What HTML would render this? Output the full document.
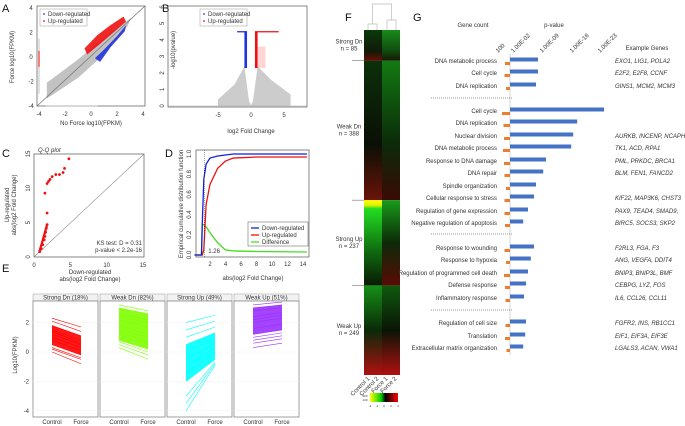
<!DOCTYPE html>
<html><head><meta charset="utf-8">
<style>
body{margin:0;background:#fff;}
svg{display:block;font-family:"Liberation Sans",sans-serif;}
.t{font-size:6px;fill:#333}
.pl{font-size:11px;fill:#111}
</style></head>
<body>
<svg id="fig" width="685" height="426" viewBox="0 0 685 426">
<defs>
<linearGradient id="gCtl1" x1="0" y1="0" x2="0" y2="1"><stop offset="0" stop-color="#0a3a0a"/><stop offset="0.7" stop-color="#101a08"/><stop offset="1" stop-color="#6a0d05"/></linearGradient>
<linearGradient id="gFor1" x1="0" y1="0" x2="0" y2="1"><stop offset="0" stop-color="#1a8a1a"/><stop offset="0.7" stop-color="#0f4a0f"/><stop offset="1" stop-color="#1a1505"/></linearGradient>
<linearGradient id="gCtl2" x1="0" y1="0" x2="0" y2="1"><stop offset="0" stop-color="#0b300b"/><stop offset="0.6" stop-color="#0a0f05"/><stop offset="1" stop-color="#6a1408"/></linearGradient>
<linearGradient id="gFor2" x1="0" y1="0" x2="0" y2="1"><stop offset="0" stop-color="#137a13"/><stop offset="0.6" stop-color="#0b2a08"/><stop offset="1" stop-color="#3a0a05"/></linearGradient>
<linearGradient id="gCtl3" x1="0" y1="0" x2="0" y2="1"><stop offset="0" stop-color="#ffff00"/><stop offset="0.06" stop-color="#e0f000"/><stop offset="0.1" stop-color="#22dd22"/><stop offset="0.6" stop-color="#0f6a0f"/><stop offset="1" stop-color="#0a1a05"/></linearGradient>
<linearGradient id="gFor3" x1="0" y1="0" x2="0" y2="1"><stop offset="0" stop-color="#1a9a1a"/><stop offset="0.5" stop-color="#0c2a08"/><stop offset="1" stop-color="#5a0a05"/></linearGradient>
<linearGradient id="gCtl4" x1="0" y1="0" x2="0" y2="1"><stop offset="0" stop-color="#169016"/><stop offset="0.5" stop-color="#0a2a08"/><stop offset="1" stop-color="#b01010"/></linearGradient>
<linearGradient id="gFor4" x1="0" y1="0" x2="0" y2="1"><stop offset="0" stop-color="#0f5a0f"/><stop offset="0.5" stop-color="#0a1505"/><stop offset="1" stop-color="#b01010"/></linearGradient>
<linearGradient id="gKey" x1="0" y1="0" x2="1" y2="0"><stop offset="0" stop-color="#ffff00"/><stop offset="0.4" stop-color="#00cc00"/><stop offset="0.55" stop-color="#000"/><stop offset="1" stop-color="#ff0000"/></linearGradient>
</defs>

<text class="pl" x="2" y="12">A</text>
<text class="pl" x="162" y="12">B</text>
<text class="pl" x="2" y="157">C</text>
<text class="pl" x="165" y="157">D</text>
<text class="pl" x="2" y="272">E</text>
<text class="pl" x="345" y="21">F</text>
<text class="pl" x="413" y="21">G</text>

<g id="pA"></g>
<g id="pB"></g>
<g id="pC"></g>
<g id="pD"></g>
<g id="pE"></g>
<g id="pF"></g>
<g id="pG"></g>
</svg>
<script>
// ---------- DATA ----------
const aRedBand=[[-0.5,0.7],[0.5,1.8],[1.5,2.6],[2.5,3.3],[2.7,2.9],[1.5,1.8],[0.5,0.9],[-0.3,0.2]];
const aBlueBand=[[0.3,-0.1],[1,0.6],[2,1.7],[2.7,2.6],[2.6,2.1],[1.5,0.8],[0.7,-0.4]];
const aGrayBand=[[-3.4,-3.4],[-1,-1.7],[1,0.2],[2.8,2.5],[3.1,3.2],[1,1.6],[-1,-0.2],[-3.4,-2.1]];
const bBlueTop=[-2.1,-0.6];const bRedTop=[0.6,4.2];
const cX=[0.8,1.0,1.2,1.4,1.5,1.6,1.7,1.8,1.8,1.5,1.8,2.0,2.2,2.5,3.0,3.5,4.0,4.2,4.8];
const cY=[0.8,1.2,1.8,2.5,3.0,3.6,4.2,4.7,6.4,9.3,10.7,11.0,11.3,11.7,12.0,12.0,12.3,12.9,14.3];
const dX=[0,0.9,1.0,1.2,1.5,2,3,4,5,8,14.5];
const dBlue=[0,0,0.3,0.75,0.9,0.96,0.98,0.99,1.0,1.0,1.0];
const dRed=[0,0,0,0.05,0.5,0.7,0.86,0.93,0.96,0.97,0.97];
const dGreen=[0,0,0.3,0.3,0.28,0.22,0.12,0.05,0.04,0.035,0.03];
const eGroups=['Strong Dn (18%)','Weak Dn (82%)','Strong Up (49%)','Weak Up (51%)'];
const eColors=['#ff0000','#7fff00','#00ffff','#9b30ff'];
const eCtl=[[0,0.2,0.5,0.8,1.0,1.2,1.5,1.8,2.1,2.3,0.3,1.4],[0.3,0.5,0.8,1.3,1.8,2.2,2.6,3.0,3.2,0.7,1.5,2.4],[-4,-3.5,-2,-1.5,-1,-0.5,0,0.5,1,1.5,2,-3],[0.3,0.8,1.2,1.6,2,2.4,2.8,3.0,3.2,1.0,2.2,0.6]];
const eFor=[[-0.8,-0.5,-0.2,0.1,0.3,0.5,0.8,1.1,1.4,1.7,-0.4,0.6],[-0.5,-0.2,0.2,0.7,1.2,1.7,2.2,2.6,2.8,0.0,1.0,2.0],[-0.9,-0.8,-0.5,0,0.3,0.6,0.9,1.3,1.7,2.1,2.5,-0.7],[0.6,1.1,1.5,1.9,2.3,2.7,3.0,3.2,3.4,1.3,2.5,0.9]];
const gCats=['DNA metabolic process','Cell cycle','DNA replication','Cell cycle','DNA replication','Nuclear division','DNA metabolic process','Response to DNA damage','DNA repair','Spindle organization','Cellular response to stress','Regulation of gene expression','Negative regulation of apoptosis','Response to wounding','Response to hypoxia','Regulation of programmed cell death','Defense response','Inflammatory response','Regulation of cell size','Translation','Extracellular matrix organization'];
const gLogP=[7,7,6.5,23.5,16.8,15.8,15.3,9,8.3,6.5,6,4.5,3.3,6,5.2,4.5,4,3.5,4,3.8,3.3];
const gCount=[50,55,40,80,65,60,70,60,55,40,55,55,50,55,40,60,50,45,45,50,35];
const gGenes=['EXO1, LIG1, POLA2','E2F2, E2F8, CCNF','GINS1, MCM2, MCM3','','','AURKB, INCENP, NCAPH','TK1, ACD, RPA1','PML, PRKDC, BRCA1','BLM, FEN1, FANCD2','','KIF22, MAP3K6, CHST3','PAX9, TEAD4, SMAD9,','BIRC5, SOCS3, SKP2','F2RL3, FGA, F3','ANG, VEGFA, DDIT4','BNIP3, BNIP3L, BMF','CEBPG, LYZ, FOS','IL6, CCL26, CCL11','FGFR2, INS, RB1CC1','EIF1, EIF3A, EIF3E','LGALS3, ACAN, VWA1'];
const gTicks=['100','1.00E-02','1.00E-09','1.00E-16','1.00E-23'];
const gTickVals=[-3,0.8,8,15.5,22.5];
const fLabels=['Strong Dn','Weak Dn','Strong Up','Weak Up'];
const fN=[85,388,237,249];

const NS='http://www.w3.org/2000/svg';
function mk(p,tag,at,txt){const e=document.createElementNS(NS,tag);for(const k in at)e.setAttribute(k,at[k]);if(txt!==undefined)e.textContent=txt;p.appendChild(e);return e;}
function txt(p,x,y,s,o){o=o||{};return mk(p,'text',Object.assign({x:x,y:y,class:'t','text-anchor':o.a||'middle'},o.tr?{transform:o.tr}:{} ,o.st?{style:o.st}:{}),s);}

// ---------- A ----------
(function(){const g=document.getElementById('pA');
const X=v=>91+v*13, Y=v=>57-v*12.25;
mk(g,'rect',{x:37,y:6,width:108,height:100,fill:'none',stroke:'#555','stroke-width':0.7});
const poly=(arr,c,op)=>mk(g,'polygon',{points:arr.map(d=>X(d[0])+','+Y(d[1])).join(' '),fill:c,opacity:op});
let e=poly(aGrayBand,'#bbb',0.9);
e=poly(aRedBand,'#ee1111',0.9);
e=poly(aBlueBand,'#2233dd',0.9);
mk(g,'line',{x1:X(-3.5),y1:Y(-4),x2:X(0.5),y2:Y(-4),stroke:'#ccc','stroke-width':1.5});
mk(g,'line',{x1:X(-4),y1:Y(-3),x2:X(-4),y2:Y(1.5),stroke:'#ccc','stroke-width':1.2});
mk(g,'line',{x1:X(-4),y1:Y(-0.8),x2:X(-4),y2:Y(0.5),stroke:'#e33','stroke-width':1.2});
mk(g,'line',{x1:37,y1:106,x2:145,y2:6,stroke:'#666','stroke-width':0.6});
[-4,-2,0,2,4].forEach(v=>{txt(g,X(v),116,v);txt(g,31,Y(v)+2,v);});
txt(g,91,125,'No Force log10(FPKM)');
txt(g,0,0,'Force log10(FPKM)',{tr:'translate(14,57) rotate(-90)'});
mk(g,'rect',{x:40,y:9,width:47,height:17,fill:'#fff',stroke:'#999','stroke-width':0.5});
mk(g,'circle',{cx:44,cy:14,r:0.9,fill:'#2233dd'});txt(g,48,16,'Down-regulated',{a:'start'});
mk(g,'circle',{cx:44,cy:21,r:0.9,fill:'#ee1111'});txt(g,48,23,'Up-regulated',{a:'start'});
})();

// ---------- B ----------
(function(){const g=document.getElementById('pB');
const X=v=>251+v*6.6, Y=v=>106-v*16.5;
mk(g,'rect',{x:168,y:6,width:139,height:101,fill:'none',stroke:'#555','stroke-width':0.7});
mk(g,'polygon',{points:[[-5,0],[-5,0.4],[-2.5,1.3],[-1,2.4],[-0.3,0.3],[0,0.05],[0.3,0.3],[1,2.4],[3,1.6],[6,0.7],[6,0]].map(d=>X(d[0])+','+Y(d[1])).join(' '),fill:'#ccc'});
mk(g,'rect',{x:X(-1),y:Y(4.5),width:X(-0.6)-X(-1),height:Y(2.3)-Y(4.5),fill:'#2233dd'});
mk(g,'rect',{x:X(0.6),y:Y(4.5),width:X(1.0)-X(0.6),height:Y(2.3)-Y(4.5),fill:'#ee1111'});
mk(g,'rect',{x:X(1.0),y:Y(3.6),width:X(2.2)-X(1.0),height:Y(2.3)-Y(3.6),fill:'#f88',opacity:0.35});
mk(g,'line',{x1:X(bBlueTop[0]),y1:Y(4.5),x2:X(bBlueTop[1]),y2:Y(4.5),stroke:'#2233dd','stroke-width':1.3});
mk(g,'line',{x1:X(bRedTop[0]),y1:Y(4.5),x2:X(bRedTop[1]),y2:Y(4.5),stroke:'#ee1111','stroke-width':1.3});
mk(g,'line',{x1:168,y1:Y(0),x2:307,y2:Y(0),stroke:'#aaa','stroke-width':0.6});
[-5,0,5].forEach(v=>txt(g,X(v),117,v));
[0,1,2,3,4,5,6].forEach(v=>txt(g,0,0,v,{tr:`translate(164,${Y(v)}) rotate(-90)`}));
txt(g,251,133,'log2 Fold Change');
txt(g,0,0,'-log10(pvalue)',{tr:'translate(175,50) rotate(-90)'});
mk(g,'rect',{x:200,y:9,width:47,height:17,fill:'#fff',stroke:'#999','stroke-width':0.5});
mk(g,'circle',{cx:204,cy:14,r:0.9,fill:'#2233dd'});txt(g,208,16,'Down-regulated',{a:'start'});
mk(g,'circle',{cx:204,cy:21,r:0.9,fill:'#ee1111'});txt(g,208,23,'Up-regulated',{a:'start'});
})();

// ---------- C ----------
(function(){const g=document.getElementById('pC');
const X=v=>34+v*7.27, Y=v=>257-v*6.87;
mk(g,'rect',{x:34,y:154,width:110,height:103,fill:'none',stroke:'#555','stroke-width':0.7});
mk(g,'line',{x1:34,y1:257,x2:144,y2:154,stroke:'#888','stroke-width':0.6});
mk(g,'line',{x1:X(0.7),y1:Y(0.6),x2:X(1.8),y2:Y(4.7),stroke:'#ee1111','stroke-width':2.2});
cX.forEach((v,i)=>{const c=mk(g,'circle',{cx:X(v),cy:Y(cY[i]),r:1.4,fill:'#ee1111'});

});
[0,5,10,15].forEach(v=>{txt(g,X(v),267,v);txt(g,0,0,v,{tr:`translate(30,${Y(v)}) rotate(-90)`});});
txt(g,38,152,'Q-Q plot',{a:'start',st:'font-style:italic'});
txt(g,90,274,'Down-regulated');txt(g,90,281,'abs(log2 Fold Change)');
txt(g,0,0,'Up-regulated',{tr:'translate(9,205) rotate(-90)'});
txt(g,0,0,'abs(log2 Fold Change)',{tr:'translate(16,205) rotate(-90)'});
txt(g,142,245,'KS test: D = 0.31',{a:'end'});
txt(g,142,252,'p-value < 2.2e-16',{a:'end'});
})();

// ---------- D ----------
(function(){const g=document.getElementById('pD');
const X=v=>194.5+v*7.75, Y=v=>255-v*101;
mk(g,'rect',{x:196,y:150,width:113,height:107,fill:'none',stroke:'#555','stroke-width':0.7});
const line=(arr,c,n)=>{const p=mk(g,'polyline',{points:dX.map((x,i)=>X(x)+','+Y(arr[i])).join(' '),fill:'none',stroke:c,'stroke-width':1.3});};
line(dGreen,'#44dd22','difference-line');line(dRed,'#ee1111','up-regulated-line');line(dBlue,'#1122dd','down-regulated-line');
mk(g,'line',{x1:X(1.26),y1:150,x2:X(1.26),y2:257,stroke:'#333','stroke-width':0.5,'stroke-dasharray':'1,1'});
txt(g,X(1.26)+4,253,'1.26',{a:'start'});
[2,4,6,8,10,12,14].forEach(v=>txt(g,X(v),266,v));
[0,0.2,0.4,0.6,0.8,1.0].forEach(v=>txt(g,0,0,v.toFixed(1),{tr:`translate(191,${Y(v)}) rotate(-90)`}));
txt(g,253,280,'abs(log2 Fold Change)');
txt(g,0,0,'Empirical cumulative distribution function',{tr:'translate(183,204) rotate(-90)'});
mk(g,'rect',{x:248,y:222,width:60,height:24,fill:'#fff',stroke:'#555','stroke-width':0.5});
[['#1122dd','Down-regulated'],['#ee1111','Up-regulated'],['#44dd22','Difference']].forEach((d,i)=>{mk(g,'line',{x1:251,x2:259,y1:228+i*7,y2:228+i*7,stroke:d[0],'stroke-width':1.3});txt(g,262,230+i*7,d[1],{a:'start'});});
})();

// ---------- E ----------
(function(){const g=document.getElementById('pE');
const Y=v=>352-v*14.7;
txt(g,0,0,'Log10(FPKM)',{tr:'translate(17,355) rotate(-90)'});
[2,0,-2,-4].forEach(v=>txt(g,29,Y(v)+2,v,{a:'end'}));
const px=[33,100,167,234];
eGroups.forEach((name,k)=>{const x0=px[k];
mk(g,'rect',{x:x0,y:294,width:65,height:7,fill:'#f2f2f2',stroke:'#999','stroke-width':0.5});
txt(g,x0+32.5,299.5,name);
mk(g,'rect',{x:x0,y:301,width:65,height:116,fill:'#fff',stroke:'#888','stroke-width':0.8});
[2,0,-2,-4].forEach(v=>mk(g,'line',{x1:x0,x2:x0+65,y1:Y(v),y2:Y(v),stroke:'#f0f0f0','stroke-width':0.5}));
const cx=x0+19, fx=x0+48;
const c=eCtl[k], f=eFor[k];
mk(g,'polygon',{points:`${cx},${Y(c[2])} ${fx},${Y(f[2])} ${fx},${Y(f[7])} ${cx},${Y(c[7])}`,fill:eColors[k],opacity:0.9});
c.forEach((v,i)=>{const l=mk(g,'line',{x1:cx,y1:Y(v),x2:fx,y2:Y(f[i]),stroke:eColors[k],'stroke-width':0.6});

});
txt(g,cx,424,'Control');txt(g,fx,424,'Force');
});
})();

// ---------- F ----------
(function(){const g=document.getElementById('pF');
const top=30,bot=375,x0=364,w=36;
const tot=fN.reduce((a,b)=>a+b,0);
let y=top;
mk(g,'path',{d:'M368,30 V24 H377 V30 M387,30 V20 H396 V30 M372.5,24 V4 H391.5 V20',fill:'none',stroke:'#bbb','stroke-width':0.7});
fN.forEach((n,k)=>{const h=(bot-top)*n/tot;
mk(g,'rect',{x:x0,y:y,width:w/2,height:h,fill:`url(#gCtl${k+1})`});
mk(g,'rect',{x:x0+w/2,y:y,width:w/2,height:h,fill:`url(#gFor${k+1})`});
if(k>0) mk(g,'line',{x1:352,x2:364,y1:y,y2:y,stroke:'#555','stroke-width':0.5});
txt(g,349,y+h/2-2,fLabels[k]);txt(g,349,y+h/2+5,'n = '+n);
y+=h;});
['Control 1','Control 2','Force 1','Force 2'].forEach((s,i)=>txt(g,0,0,s,{a:'end',tr:`translate(${x0+6+i*9},379) rotate(-45)`}));
mk(g,'rect',{x:370,y:393,width:28,height:9,fill:'url(#gKey)'});
txt(g,365,397,'500',{st:'font-size:3px'});txt(g,365,401,'100',{st:'font-size:3px'});
[-4,-2,0,2,4].forEach((v,i)=>txt(g,370+i*7,407,v,{st:'font-size:3px'}));
})();

// ---------- G ----------
(function(){const g=document.getElementById('pG');
const ax=510, X=v=>ax+v*4;
const rowsY=[61,73,86,111,123,136,148,161,173,186,198,211,223,248,260,273,285,298,323,336,348];
txt(g,473,27,'Gene count');txt(g,554,27,'p-value');
gTicks.forEach((t,i)=>txt(g,0,0,t,{a:'start',tr:`translate(${X(gTickVals[i])},53) rotate(-45)`}));
txt(g,647,50,'Example Genes');
mk(g,'line',{x1:ax,x2:ax,y1:54,y2:355,stroke:'#ccc','stroke-width':0.8});
[98,234,310].forEach(y=>mk(g,'line',{x1:431,x2:512,y1:y,y2:y,stroke:'#333','stroke-width':0.6,'stroke-dasharray':'1,1'}));
gCats.forEach((c,i)=>{const y=rowsY[i];
txt(g,497,y+2,c,{a:'end'});
const b=mk(g,'rect',{x:ax,y:y-3.5,width:X(gLogP[i])-ax,height:4,fill:'#4472c4'});


const cw=gCount[i]*0.1;
const o=mk(g,'rect',{x:ax-cw,y:y+1,width:cw,height:3,fill:'#ed7d31'});


if(gGenes[i]) txt(g,615,y+2,gGenes[i],{a:'start',st:'font-style:italic'});
});
})();
</script>
</body></html>
